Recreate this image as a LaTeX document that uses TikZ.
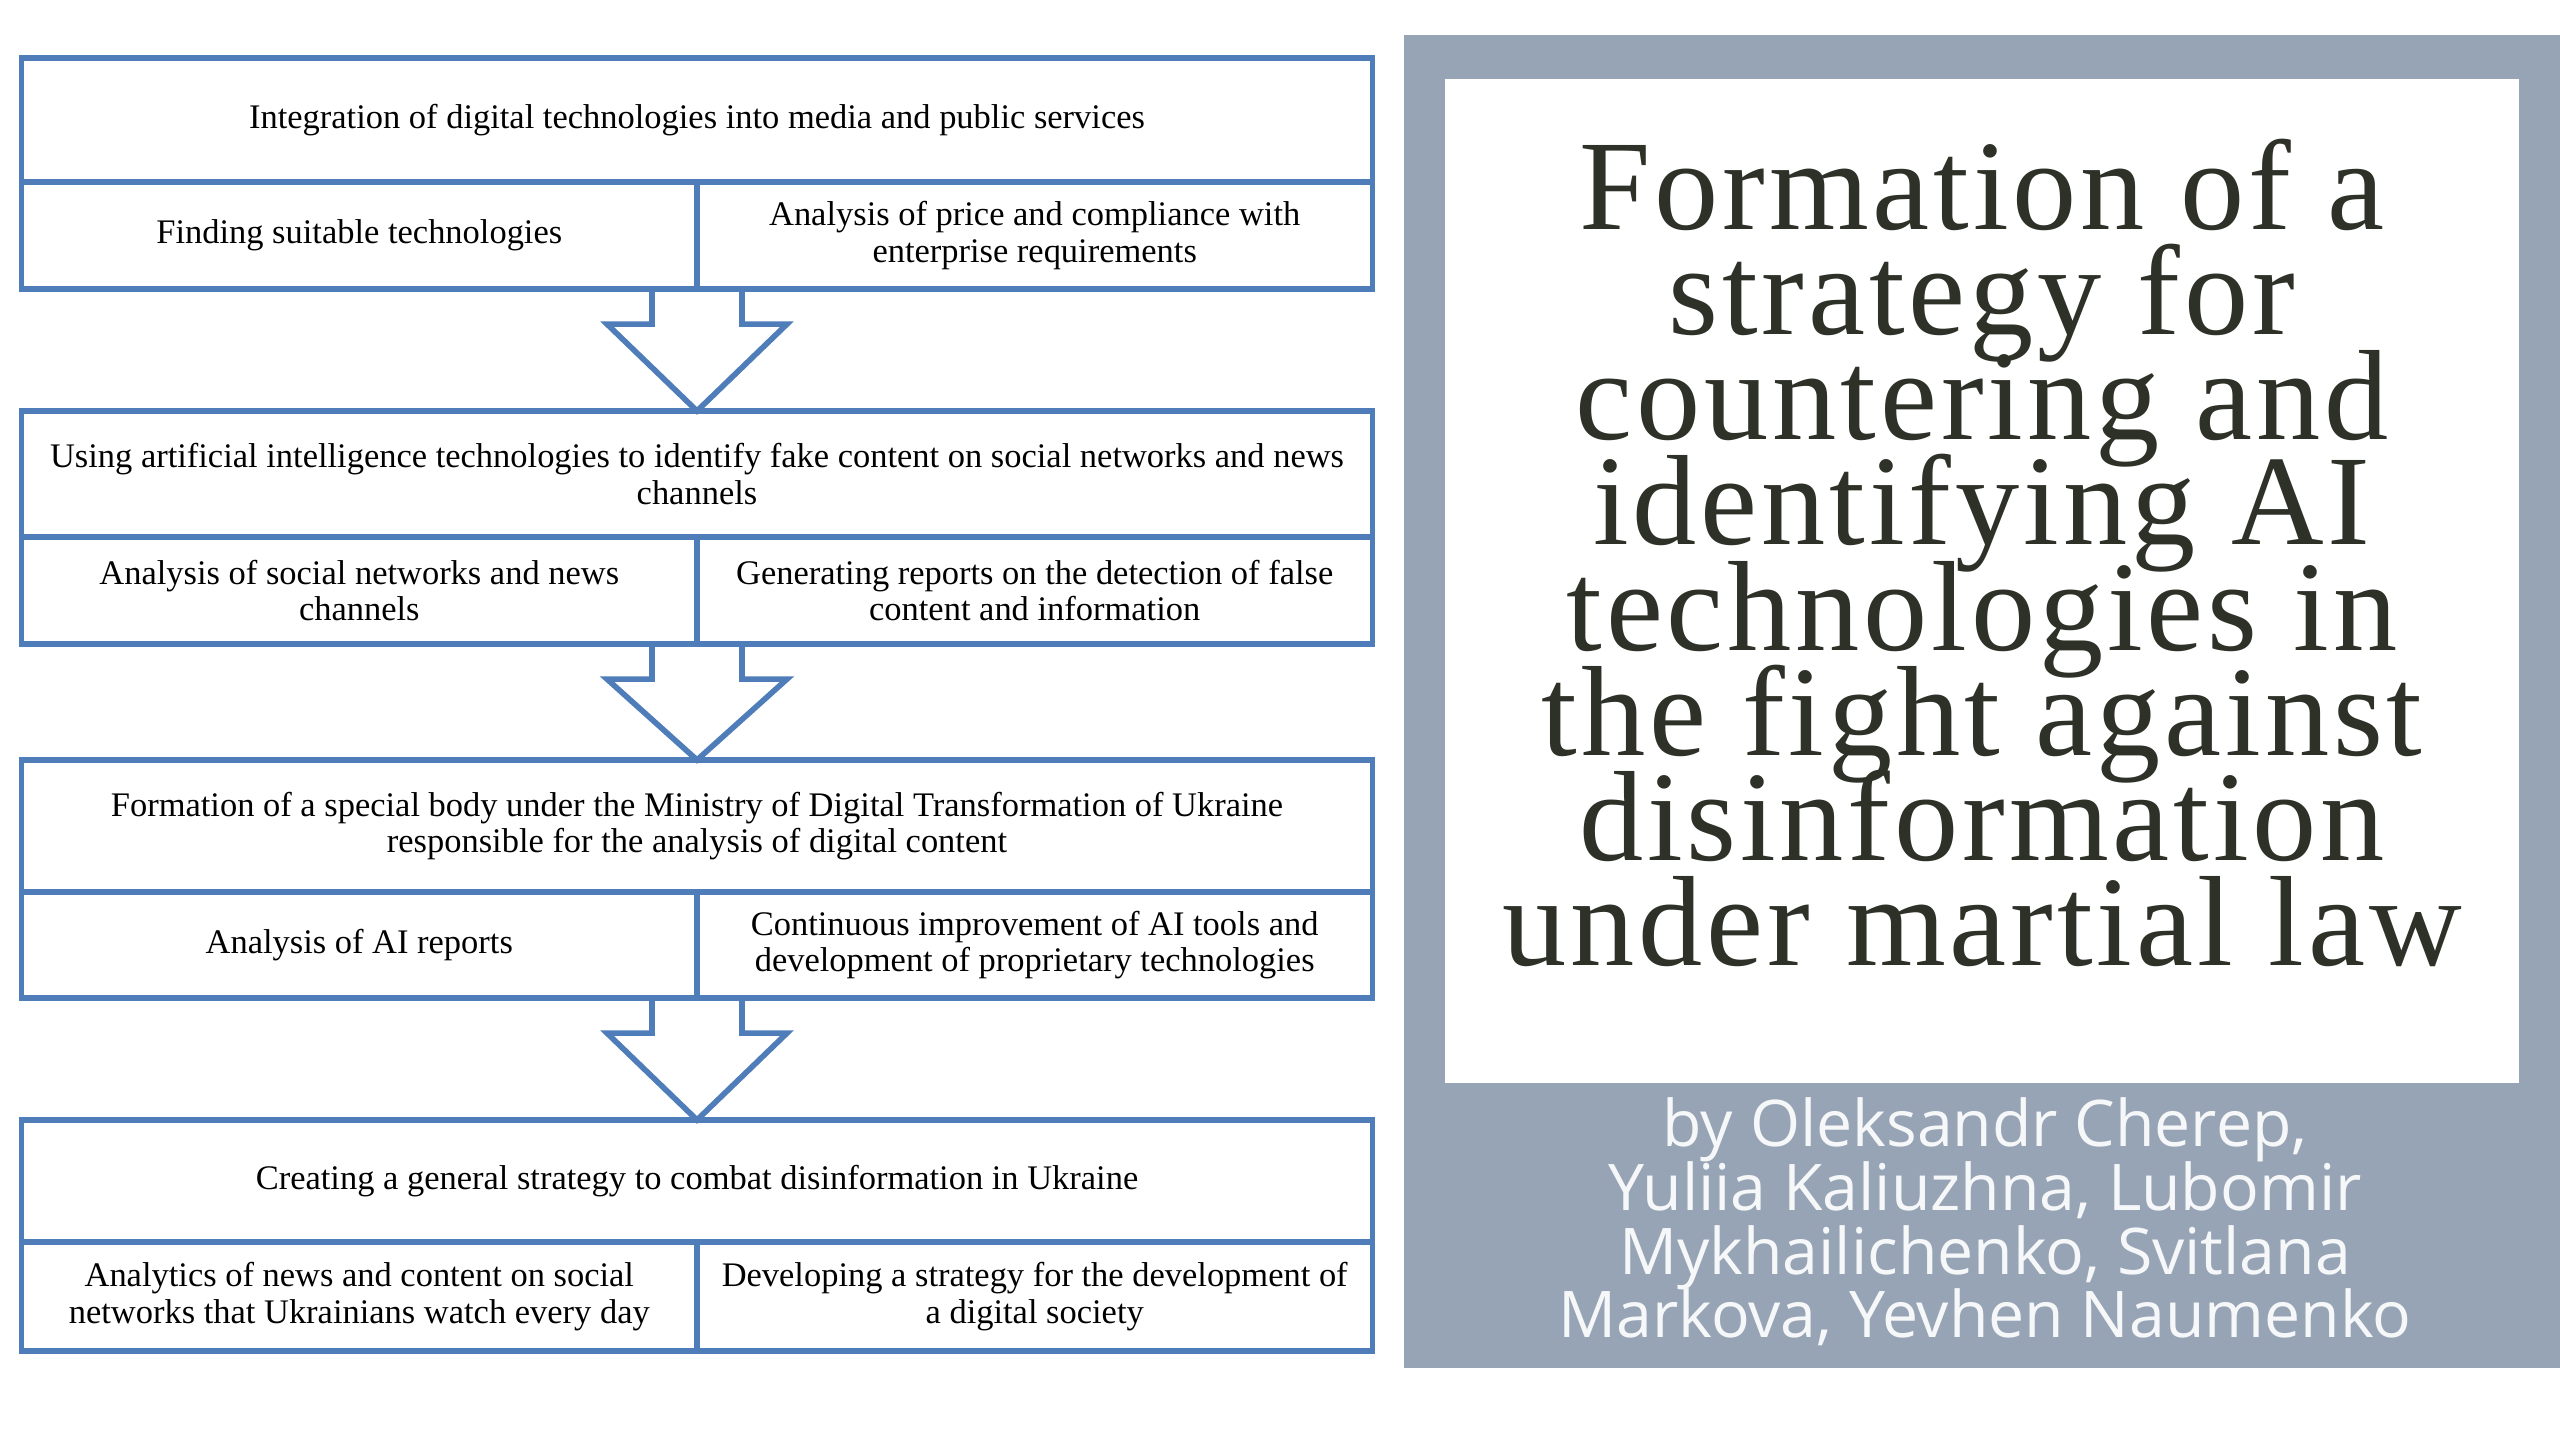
\documentclass[tikz,border=0pt]{standalone}
\usepackage{fontspec}
\setmainfont{Liberation Serif}
\newfontfamily\titlefont[LetterSpace=3]{Liberation Serif}
\newfontfamily\authorfont{Open Sans}
\usetikzlibrary{calc, positioning}
\definecolor{flowblue}{RGB}{79,125,185}
\definecolor{panelgrey}{RGB}{151,164,181}
\definecolor{titleink}{RGB}{46,49,40}
\definecolor{authorink}{RGB}{246,247,249}
\lineskiplimit=-\maxdimen

\begin{document}
\begin{tikzpicture}[x=0.01cm, y=-0.01cm,
    cell/.style={draw=flowblue, line width=1.6pt, inner sep=0pt, outer sep=0pt,
        align=center, font=\fontsize{9.8}{10.3}\selectfont},
    wide/.style={cell, minimum width=13.50cm},
    half/.style={cell, minimum width=6.75cm},
    flowline/.style={draw=flowblue, line width=1.6pt, line join=miter}]
    \useasboundingbox (0,0) rectangle (2560,1440);
    % flowchart blocks
    \node[wide, minimum height=1.24cm] (integ) at (697,120) {Integration of digital technologies into media and public services};
    \node[half, minimum height=1.07cm, below right=0pt and 0pt of integ.south west] (find) {Finding suitable technologies};
    \node[half, minimum height=1.07cm, right=0pt of find] (price) {Analysis of price and compliance with\\enterprise requirements};
    \node[wide, minimum height=1.26cm] (usingai) at (697,474) {Using artificial intelligence technologies to identify fake content on social networks and news\\channels};
    \node[half, minimum height=1.07cm, below right=0pt and 0pt of usingai.south west] (social) {Analysis of social networks and news\\channels};
    \node[half, minimum height=1.07cm, right=0pt of social] (reports) {Generating reports on the detection of false\\content and information};
    \node[wide, minimum height=1.32cm] (formbody) at (697,826) {Formation of a special body under the Ministry of Digital Transformation of Ukraine\\responsible for the analysis of digital content};
    \node[half, minimum height=1.06cm, below right=0pt and 0pt of formbody.south west] (aireports) {Analysis of AI reports};
    \node[half, minimum height=1.06cm, right=0pt of aireports] (improve) {Continuous improvement of AI tools and\\development of proprietary technologies};
    \node[wide, minimum height=1.22cm] (strategy) at (697,1181) {Creating a general strategy to combat disinformation in Ukraine};
    \node[half, minimum height=1.09cm, below right=0pt and 0pt of strategy.south west] (analytics) {Analytics of news and content on social\\networks that Ukrainians watch every day};
    \node[half, minimum height=1.09cm, right=0pt of analytics] (develop) {Developing a strategy for the development of\\a digital society};
    % block arrows
    \foreach \a/\b in {find/usingai, social/formbody, aireports/strategy}
        \draw[flowline] ($(\a.south east)+(-45,0)$) |- ($(\a.south east)+(-90,35)$) -- (\b.north)
            -- ($(\a.south east)+(90,35)$) -| ($(\a.south east)+(45,0)$);
    % title panel
    \fill[panelgrey] (1404,35) rectangle (2560,1368);
    \fill[white] (1445,79) rectangle (2519,1083);
    \node[align=center, text=titleink, font=\titlefont\fontsize{36.5}{29.9}\selectfont] (title) at (1982,553)
        {Formation of a\\strategy for\\countering and\\identifying AI\\technologies in\\the fight against\\disinformation\\under martial law};
    \node[align=center, text=authorink, font=\authorfont\fontsize{18.3}{18.1}\selectfont] (authors) at (1985,1222)
        {by Oleksandr Cherep,\\Yuliia Kaliuzhna, Lubomir\\Mykhailichenko, Svitlana\\Markova, Yevhen Naumenko};
\end{tikzpicture}
\end{document}
